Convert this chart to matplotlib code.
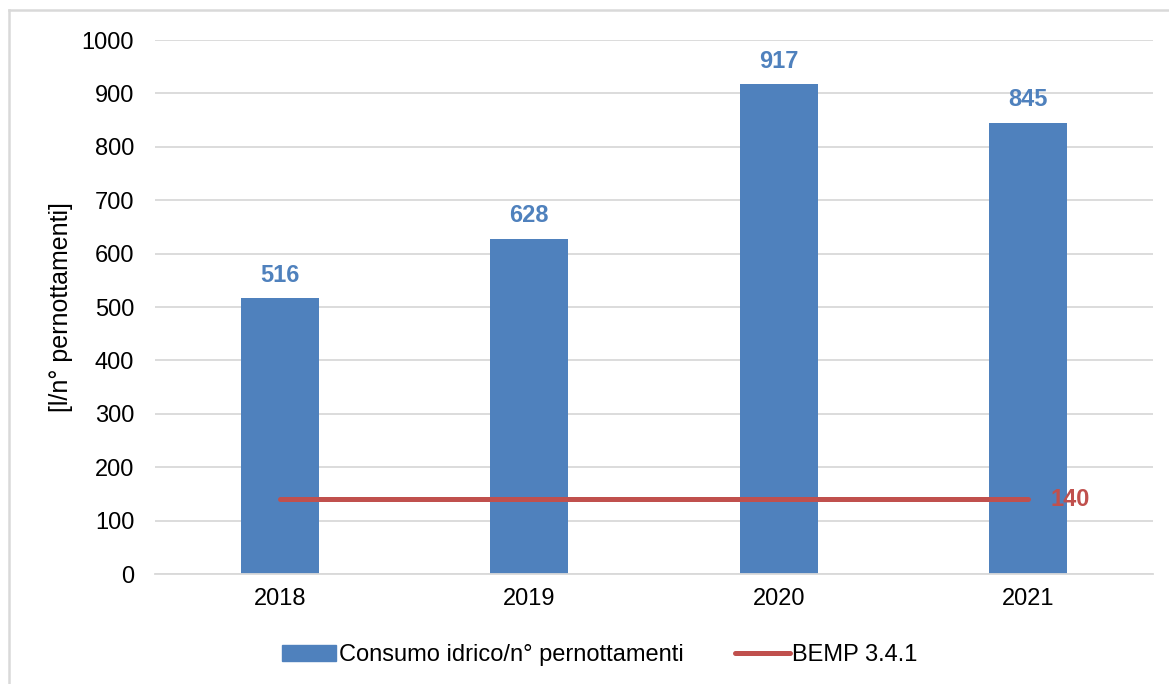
import numpy as np
import matplotlib.pyplot as plt
from matplotlib.lines import Line2D
from matplotlib.patches import Patch

plt.rcParams['font.family'] = ['Liberation Sans', 'DejaVu Sans']

years = ["2018", "2019", "2020", "2021"]
consumo = [516, 628, 917, 845]
bemp = [140, 140, 140, 140]

blue = "#4F81BD"
red = "#C0504D"
grid = "#D9D9D9"

fig = plt.figure(figsize=(11.69, 6.84), dpi=100)
ax = fig.add_axes([0.1326, 0.1608, 0.8537, 0.7807])

x = np.arange(len(years))
ax.bar(x, consumo, width=0.313, color=blue, zorder=2)
ax.plot(x, bemp, color=red, lw=3.6, solid_capstyle="round", zorder=3)

for xi, v in zip(x, consumo):
    ax.text(xi, v + 22, f"{v}", ha="center", va="bottom", color=blue,
            fontsize=17, fontweight="bold")
ax.text(x[-1] + 0.09, bemp[-1], f"{bemp[-1]}", ha="left", va="center",
        color=red, fontsize=17, fontweight="bold")

ax.set_xlim(-0.5, 3.5)
ax.set_ylim(0, 1000)
ax.set_yticks(np.arange(0, 1001, 100))
ax.set_xticks(x)
ax.set_xticklabels(years)
ax.yaxis.grid(True, color=grid, lw=1.3, zorder=0)
ax.set_axisbelow(True)
for s in ["top", "right", "left"]:
    ax.spines[s].set_visible(False)
ax.spines["bottom"].set_color(grid)
ax.spines["bottom"].set_linewidth(1.3)
ax.tick_params(axis="both", length=0, labelsize=17, pad=10)
ax.tick_params(axis="y", pad=15)
ax.set_ylabel("[l/n° pernottamenti]", fontsize=18, labelpad=6)

handles = [Patch(color=blue), Line2D([0], [0], color=red, lw=3.6, solid_capstyle="round")]
fig.legend(handles, ["Consumo idrico/n° pernottamenti", "BEMP 3.4.1"],
           loc="center", bbox_to_anchor=(0.513, 0.042), ncol=2, frameon=False,
           fontsize=17, handlelength=2.3, handletextpad=0.1, columnspacing=2.2)

# outer border (top and left)
fig.add_artist(Line2D([9 / 1169, 9 / 1169], [0, 1 - 10 / 684], color=grid, lw=1.8,
                      transform=fig.transFigure))
fig.add_artist(Line2D([9 / 1169, 1], [1 - 10 / 684, 1 - 10 / 684], color=grid, lw=1.8,
                      transform=fig.transFigure))

fig.savefig("out.png", dpi=100)
